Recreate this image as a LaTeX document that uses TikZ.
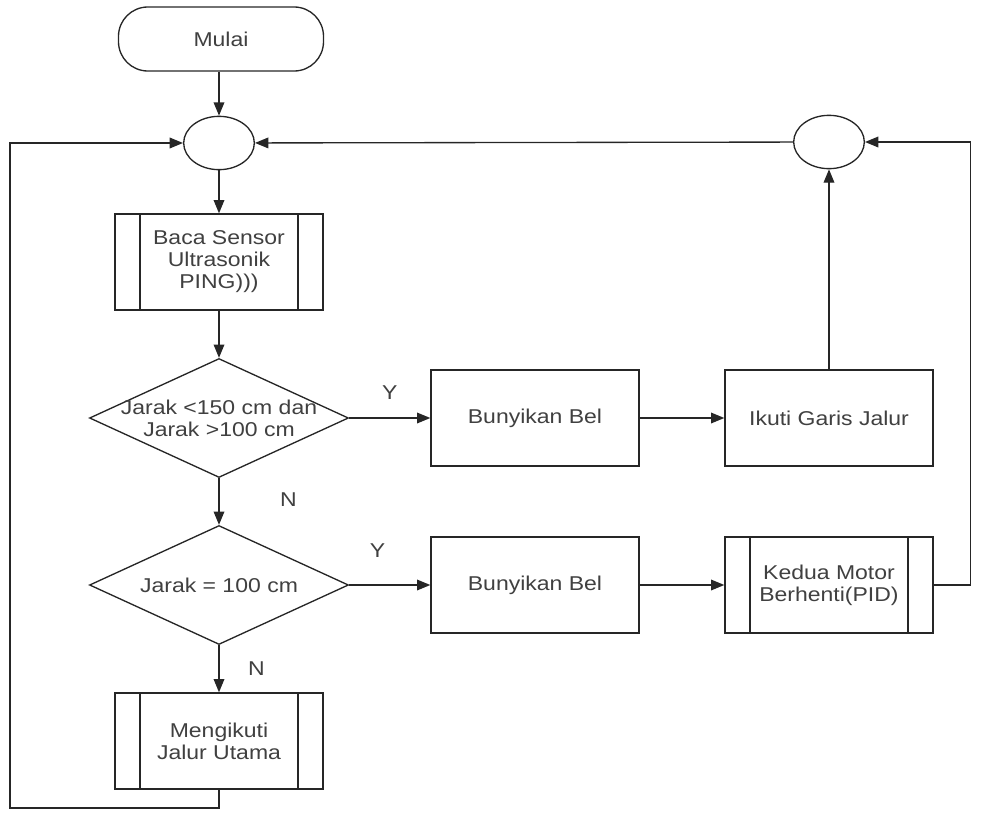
\documentclass[tikz,border=0pt]{standalone}
\usepackage{fontspec}
\setmainfont{Liberation Sans}[FakeStretch=1.15]
\usepackage{tikz}
\usetikzlibrary{arrows.meta,positioning,calc,shapes.geometric}

\begin{document}
\begin{tikzpicture}[
    x=0.75pt, y=-0.75pt,
    font=\fontsize{15}{16.5}\selectfont,
    every node/.append style={text=black!75},
    line/.style={draw=black!85, line width=1pt},
    arrow/.style={line, -{Triangle[length=10pt,width=8pt]}},
    terminal/.style={line, rectangle, rounded corners=22pt, minimum width=153.75pt, minimum height=48pt},
    conn/.style={line, ellipse, minimum width=53pt, minimum height=40pt, inner sep=0pt},
    box/.style={line, rectangle, minimum width=156pt, minimum height=72pt, align=center},
    subproc/.style={box, path picture={
        \draw[black!85, line width=1pt] ([xshift=18.75pt]path picture bounding box.north west) -- ([xshift=18.75pt]path picture bounding box.south west);
        \draw[black!85, line width=1pt] ([xshift=-18.75pt]path picture bounding box.north east) -- ([xshift=-18.75pt]path picture bounding box.south east);}},
    decision/.style={line, diamond, minimum width=194.25pt, minimum height=89.25pt, inner sep=0pt, align=center}
]
\useasboundingbox (0,0) rectangle (986,814);

% Left column
\node[terminal] (mulai) at (221,39) {Mulai};
\node[conn] (c1) at (219,143) {};
\node[subproc] (baca) at (219,262) {Baca Sensor\\Ultrasonik\\PING)))};
\node[decision] (d1) at (219,418) {\makebox[0pt]{Jarak <150 cm dan}\\\makebox[0pt]{Jarak >100 cm}};
\node[decision] (d2) at (219,585) {\makebox[0pt]{Jarak = 100 cm}};
\node[subproc] (jalan) at (219,741) {Mengikuti\\Jalur Utama};

% Right side
\node[box] (bel1) at (535,418) {Bunyikan Bel};
\node[box] (ikuti) at (829,418) {Ikuti Garis Jalur};
\node[conn] (c2) at (829,142) {};
\node[box] (bel2) at (535,585) {Bunyikan Bel};
\node[subproc] (motor) at (829,585) {Kedua Motor\\Berhenti(PID)};

\coordinate (kiri) at (10,808);

% Arrows
\draw[arrow] (mulai.south -| c1) -- (c1);
\draw[arrow] (c1) -- (baca);
\draw[arrow] (baca) -- (d1);
\draw[arrow] (d1) -- node[pos=0.45, right=42pt] {N} (d2);
\draw[arrow] (d2) -- node[pos=0.5, right=18pt] {N} (jalan);
\draw[arrow] (d1.east) -- node[pos=0.5, above=10pt] {Y} (bel1);
\draw[arrow] (bel1) -- (ikuti);
\draw[arrow] (ikuti) -- (c2);
\draw[arrow] (c2) -- (c1);
\draw[arrow] (d2.east) -- node[pos=0.35, above=17pt] {Y} (bel2);
\draw[arrow] (bel2) -- (motor);
\draw[arrow] (motor.east) -- ++(37,0) |- (c2.east);
\draw[arrow] (jalan.south) |- (kiri) |- (c1.west);
\end{tikzpicture}
\end{document}
